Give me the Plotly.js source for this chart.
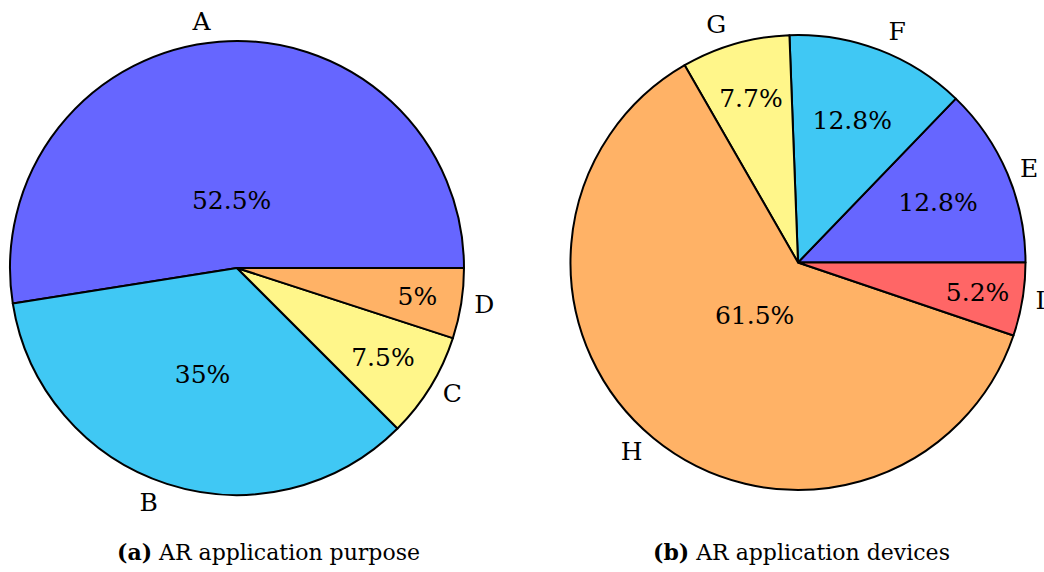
<!DOCTYPE html>
<html>
<head>
<meta charset="utf-8">
<script src="https://cdn.plot.ly/plotly-3.0.1.min.js"></script>
<style>html,body{margin:0;padding:0;background:#fff;}#chart{width:1044px;height:572px;}</style>
</head>
<body>
<div id="chart"></div>
<script>
const purposeLabels = ['A', 'B', 'C', 'D'];
const purposeValues = [52.5, 35, 7.5, 5];
const purposeColors = ['#6666ff', '#40c8f4', '#fff68a', '#ffb266'];

const deviceLabels = ['E', 'F', 'G', 'H', 'I'];
const deviceValues = [12.8, 12.8, 7.7, 61.5, 5.2];
const deviceColors = ['#6666ff', '#40c8f4', '#fff68a', '#ffb266', '#ff6666'];

const captions = ['<b>(a)</b> AR application purpose', '<b>(b)</b> AR application devices'];

const FONT = 'DejaVu Serif, serif';
const W = 1044, H = 572;

function dom(cx, cy, r) {
  return {x: [(cx - r) / W, (cx + r) / W], y: [1 - (cy + r) / H, 1 - (cy - r) / H]};
}

function pieTraces(labels, values, colors, cx, cy, r) {
  const total = values.reduce((a, b) => a + b, 0);
  const rot = 90 - 360 * values[0] / total;
  const maxV = Math.max.apply(null, values);
  const base = {
    type: 'pie', labels: labels, values: values, sort: false,
    direction: 'counterclockwise', rotation: rot, showlegend: false,
    hoverinfo: 'skip'
  };
  const clear = {colors: labels.map(() => 'rgba(0,0,0,0)'), line: {width: 0}};
  return [
    Object.assign({}, base, {
      domain: dom(cx, cy, r),
      marker: {colors: colors, line: {color: '#000', width: 2}},
      textinfo: 'none', hoverinfo: 'label+percent'
    }),
    Object.assign({}, base, {
      domain: dom(cx, cy, r * 0.93),
      marker: clear,
      texttemplate: values.map(v => v === maxV ? '' : '%{percent}'),
      textposition: 'inside', insidetextorientation: 'horizontal',
      insidetextfont: {family: FONT, size: 25, color: '#000'}
    }),
    Object.assign({}, base, {
      domain: dom(cx, cy, r * 0.6),
      marker: clear,
      texttemplate: values.map(v => v === maxV ? '%{percent}' : ''),
      textposition: 'inside', insidetextorientation: 'horizontal',
      insidetextfont: {family: FONT, size: 25, color: '#000'}
    }),
    Object.assign({}, base, {
      domain: dom(cx, cy, r * 1.026),
      marker: clear,
      textinfo: 'label', textposition: 'outside',
      outsidetextfont: {family: FONT, size: 25, color: '#000'}
    })
  ];
}

const data = [].concat(
  pieTraces(purposeLabels, purposeValues, purposeColors, 237, 268, 227),
  pieTraces(deviceLabels, deviceValues, deviceColors, 798, 262.5, 227.5)
);

const layout = {
  width: W, height: H,
  margin: {l: 0, r: 0, t: 0, b: 0},
  paper_bgcolor: '#fff',
  showlegend: false,
  uniformtext: {mode: 'show', minsize: 25},
  font: {family: FONT, size: 25, color: '#000'},
  annotations: [
    {text: captions[0], xref: 'paper', yref: 'paper', x: 268 / W, y: 1 - 552 / H, showarrow: false, xanchor: 'center', yanchor: 'middle', font: {family: FONT, size: 22, color: '#000'}},
    {text: captions[1], xref: 'paper', yref: 'paper', x: 801 / W, y: 1 - 552 / H, showarrow: false, xanchor: 'center', yanchor: 'middle', font: {family: FONT, size: 22, color: '#000'}}
  ]
};

Plotly.newPlot('chart', data, layout, {displayModeBar: false, staticPlot: true});
</script>
</body>
</html>
